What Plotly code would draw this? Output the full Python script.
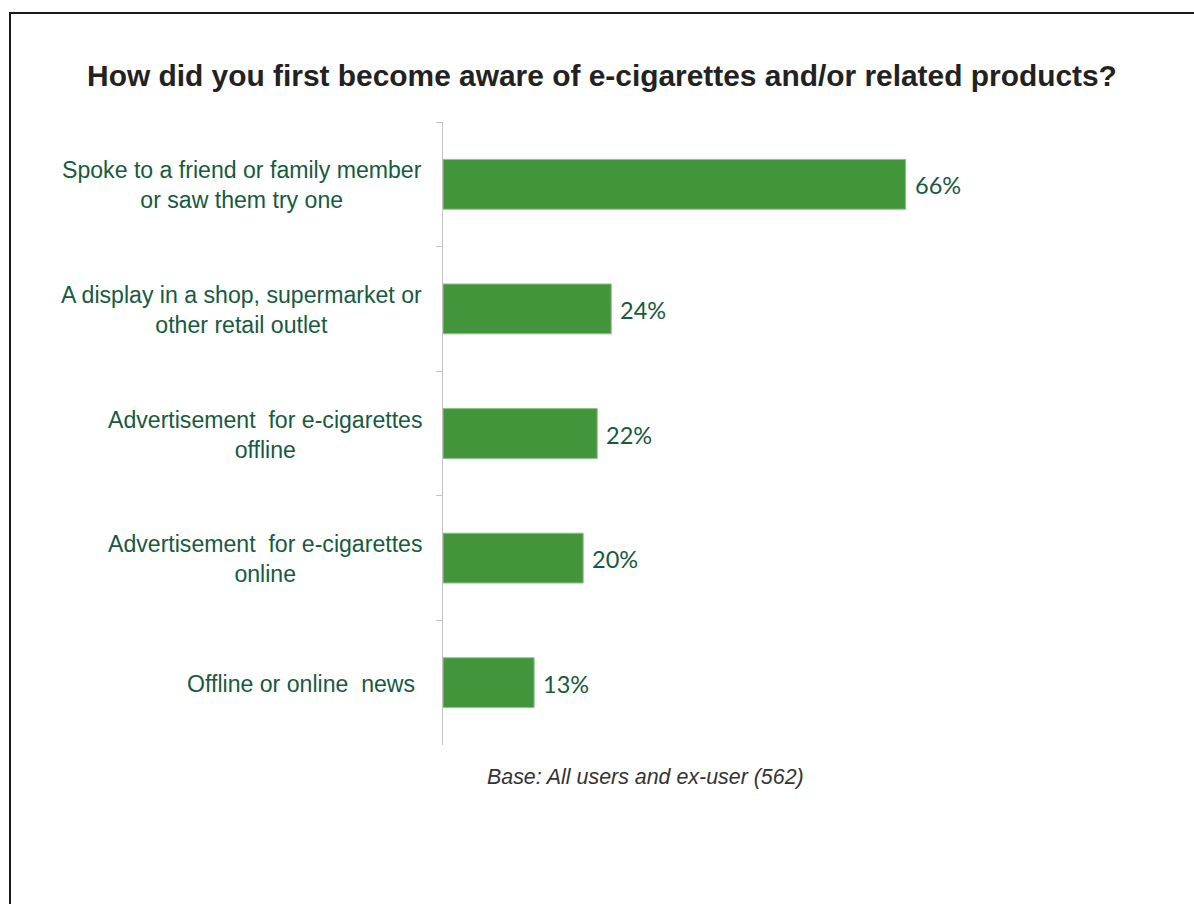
import plotly.graph_objects as go

# Survey responses: how people first became aware of e-cigarettes
categories = [
    "Spoke to a friend or family member<br>or saw them try one",
    "A display in a shop, supermarket or<br>other retail outlet",
    "Advertisement\u00a0 for e-cigarettes<br>offline",
    "Advertisement\u00a0 for e-cigarettes<br>online",
    "Offline or online\u00a0 news\u00a0",
]
values = [66, 24, 22, 20, 13]
value_labels = ["66%", "24%", "22%", "20%", "13%"]

title_text = "How did you first become aware of e-cigarettes and/or related products?"
base_note = "Base: All users and ex-user (562)"

W, H = 1194, 904
M_L, M_R, M_T, M_B = 443, 50, 122, 159
PLOT_W = W - M_L - M_R
PLOT_H = H - M_T - M_B

BAR_GREEN = "#43953C"
TEXT_GREEN = "#175A40"
ARIAL = "Liberation Sans, Arial, sans-serif"

fig = go.Figure()
fig.add_trace(
    go.Bar(
        y=categories,
        x=values,
        orientation="h",
        width=0.4,
        marker=dict(color=BAR_GREEN, line=dict(color="#8CC388", width=1)),
        hoverinfo="skip",
    )
)

# Category labels, centred lines, right-aligned block left of the axis
for cat in categories:
    fig.add_annotation(
        x=0, xref="paper", y=cat, yref="y",
        text=cat, showarrow=False,
        xanchor="right", yanchor="middle", align="center",
        xshift=-19, yshift=-1,
        font=dict(family=ARIAL, size=23.1, color=TEXT_GREEN),
    )

# Value labels at the end of each bar
for cat, v, lab in zip(categories, values, value_labels):
    fig.add_annotation(
        x=v, xref="x", y=cat, yref="y",
        text=lab, showarrow=False,
        xanchor="left", yanchor="middle",
        xshift=7, yshift=-1,
        font=dict(family="Lato, Open Sans, sans-serif", size=23.5, color=TEXT_GREEN),
    )

# Footnote
fig.add_annotation(
    x=(645 - M_L) / PLOT_W, xref="paper",
    y=(H - M_B - 777) / PLOT_H, yref="paper",
    text=f"<i>{base_note}</i>", showarrow=False,
    xanchor="center", yanchor="middle",
    font=dict(family=ARIAL, size=21.4, color="#333333"),
)

# Frame lines along the left and top of the slide
x_left = (10 - M_L) / PLOT_W
y_top = (H - M_B - 13) / PLOT_H
fig.add_shape(
    type="path", xref="paper", yref="paper",
    path=f"M {x_left} -0.5 L {x_left} {y_top} L 1.2 {y_top}",
    line=dict(color="#1a1a1a", width=2),
)

fig.update_layout(
    width=W, height=H, autosize=False,
    margin=dict(l=M_L, r=M_R, t=M_T, b=M_B),
    paper_bgcolor="white", plot_bgcolor="white",
    showlegend=False,
    bargap=0.6,
    title=dict(
        text=f"<b>{title_text}</b>",
        x=602 / W, xanchor="center",
        y=1 - 76 / H, yanchor="middle",
        font=dict(family=ARIAL, size=29.9, color="#222222"),
    ),
    xaxis=dict(range=[0, 100], visible=False, fixedrange=True),
    yaxis=dict(
        autorange="reversed",
        showticklabels=False,
        showline=True, linecolor="#C4C4C4", linewidth=1,
        ticks="outside", tickson="boundaries", ticklen=6, tickcolor="#C4C4C4",
        showgrid=False, zeroline=False, fixedrange=True,
    ),
)

fig.write_html("out.html")
